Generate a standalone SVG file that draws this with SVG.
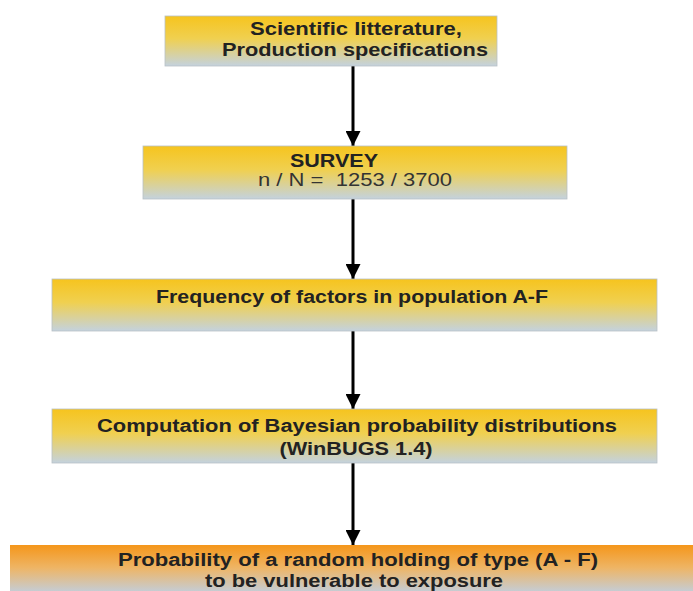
<svg xmlns="http://www.w3.org/2000/svg" width="693" height="591" viewBox="0 0 693 591">
<style>
.box{fill:url(#gy);stroke:#b8c0c6;stroke-width:0.8}
.obox{fill:url(#go)}
.t{font-family:"Liberation Sans",Arial,sans-serif;font-size:18px;font-weight:bold;fill:#222;text-anchor:middle}
.n{font-weight:normal;fill:#333;white-space:pre}
.c{stroke:#000;stroke-width:3;fill:none;marker-end:url(#ah)}
</style>
<defs>
<linearGradient id="gy" x1="0" y1="0" x2="0" y2="1">
<stop offset="0" stop-color="#f6c41e"/>
<stop offset="0.45" stop-color="#f0d050"/>
<stop offset="1" stop-color="#c4d2de"/>
</linearGradient>
<linearGradient id="go" x1="0" y1="0" x2="0" y2="1">
<stop offset="0" stop-color="#f5961a"/>
<stop offset="0.5" stop-color="#eeb566"/>
<stop offset="1" stop-color="#c6ccd2"/>
</linearGradient>
<marker id="ah" viewBox="0 0 10 10" refX="10" refY="5" markerWidth="5" markerHeight="5" markerUnits="strokeWidth" orient="auto">
<path d="M0,0 L10,5 L0,10 z" fill="#000"/>
</marker>
</defs>
<g id="connectors">
<line class="c" x1="353" y1="66" x2="353" y2="146"/>
<line class="c" x1="353" y1="199" x2="353" y2="279"/>
<line class="c" x1="353" y1="331" x2="353" y2="409"/>
<line class="c" x1="353" y1="463" x2="353" y2="545"/>
</g>
<g id="n1">
<rect class="box" x="165" y="16" width="332" height="50"/>
<text class="t" x="356" y="35" textLength="212" lengthAdjust="spacingAndGlyphs">Scientific litterature,</text>
<text class="t" x="355" y="56" textLength="266" lengthAdjust="spacingAndGlyphs">Production specifications</text>
</g>
<g id="n2">
<rect class="box" x="143" y="146" width="424" height="53"/>
<text class="t" x="334" y="167" textLength="88" lengthAdjust="spacingAndGlyphs">SURVEY</text>
<text class="t n" x="355" y="186" textLength="194" lengthAdjust="spacingAndGlyphs" xml:space="preserve">n / N =  1253 / 3700</text>
</g>
<g id="n3">
<rect class="box" x="52" y="279" width="605" height="52"/>
<text class="t" x="352" y="303" textLength="392" lengthAdjust="spacingAndGlyphs">Frequency of factors in population A-F</text>
</g>
<g id="n4">
<rect class="box" x="52" y="409" width="605" height="54"/>
<text class="t" x="357" y="432" textLength="520" lengthAdjust="spacingAndGlyphs">Computation of Bayesian probability distributions</text>
<text class="t" x="356" y="455" textLength="153" lengthAdjust="spacingAndGlyphs">(WinBUGS 1.4)</text>
</g>
<g id="n5">
<rect class="obox" x="10" y="545" width="683" height="46"/>
<text class="t" x="358" y="566" textLength="480" lengthAdjust="spacingAndGlyphs">Probability of a random holding of type (A - F)</text>
<text class="t" x="354" y="587" textLength="298" lengthAdjust="spacingAndGlyphs">to be vulnerable to exposure</text>
</g>
</svg>
